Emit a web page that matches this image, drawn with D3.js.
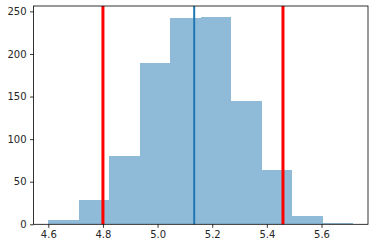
<!DOCTYPE html>
<head>
    <meta charset="utf-8"/>
    <script src="https://d3js.org/d3.v7.min.js"></script>
    <style>
        body { margin: 0; background: #fff; }
        text { font-family: "DejaVu Sans", sans-serif; font-size: 10px; fill: #262626; }
    </style>
</head>
<body>
<svg id="chart" width="375" height="248"></svg>
<script>
    // histogram bins (left edges) and counts
    let binEdges = [4.600, 4.7116, 4.8232, 4.9348, 5.0464, 5.158, 5.2696, 5.3812, 5.4928, 5.6044, 5.716];
    let counts = [5, 28, 80, 189, 242, 243, 145, 64, 10, 1];
    let redLines = [4.80, 5.459];
    let meanLine = 5.134;
    let xTicks = [4.6, 4.8, 5.0, 5.2, 5.4, 5.6];
    let yTicks = [0, 50, 100, 150, 200, 250];

    let svg = d3.select("svg#chart");
    let plotLeft = 33.5, plotRight = 368, plotTop = 6, plotBottom = 224.3;

    let xScale = d3.scaleLinear().domain([4.5458, 5.7702]).range([plotLeft, plotRight]);
    let yScale = d3.scaleLinear().domain([0, 256.3]).range([plotBottom, plotTop]);

    // bars (snap edges to whole pixels so neighbours don't leave seams)
    counts.forEach(function(d, i) {
        let x0 = Math.round(xScale(binEdges[i]));
        let x1 = Math.round(xScale(binEdges[i + 1]));
        let y0 = Math.round(yScale(d));
        svg.append("rect")
            .attr("x", x0)
            .attr("width", x1 - x0)
            .attr("y", y0)
            .attr("height", Math.round(yScale(0)) - y0)
            .style("fill", "#1f77b4")
            .style("opacity", 0.5)
            .style("shape-rendering", "crispEdges");
    });

    // vertical lines
    redLines.forEach(function(v) {
        svg.append("line")
            .attr("x1", xScale(v)).attr("x2", xScale(v))
            .attr("y1", plotTop).attr("y2", plotBottom)
            .style("stroke", "red")
            .style("stroke-width", 3);
    });
    svg.append("line")
        .attr("x1", xScale(meanLine)).attr("x2", xScale(meanLine))
        .attr("y1", plotTop).attr("y2", plotBottom)
        .style("stroke", "#1f77b4")
        .style("stroke-width", 2);

    // axes
    let xAxis = d3.axisBottom(xScale).tickValues(xTicks).tickFormat(d3.format(".1f")).tickSize(3.5).tickPadding(3.5);
    let yAxis = d3.axisLeft(yScale).tickValues(yTicks).tickSize(3.5).tickPadding(3.5);

    let gx = svg.append("g").attr("transform", "translate(0," + plotBottom + ")").call(xAxis);
    let gy = svg.append("g").attr("transform", "translate(" + plotLeft + ",0)").call(yAxis);
    [gx, gy].forEach(function(g) {
        g.select(".domain").remove();
        g.selectAll(".tick line").style("stroke", "#000").style("stroke-width", 0.8);
        g.selectAll(".tick text").style("font-size", "10px").style("font-family", "DejaVu Sans").style("fill", "#262626");
    });

    // frame
    svg.append("rect")
        .attr("x", plotLeft).attr("y", plotTop)
        .attr("width", plotRight - plotLeft).attr("height", plotBottom - plotTop)
        .style("fill", "none")
        .style("stroke", "#000")
        .style("stroke-width", 0.8);
</script>
</body>
